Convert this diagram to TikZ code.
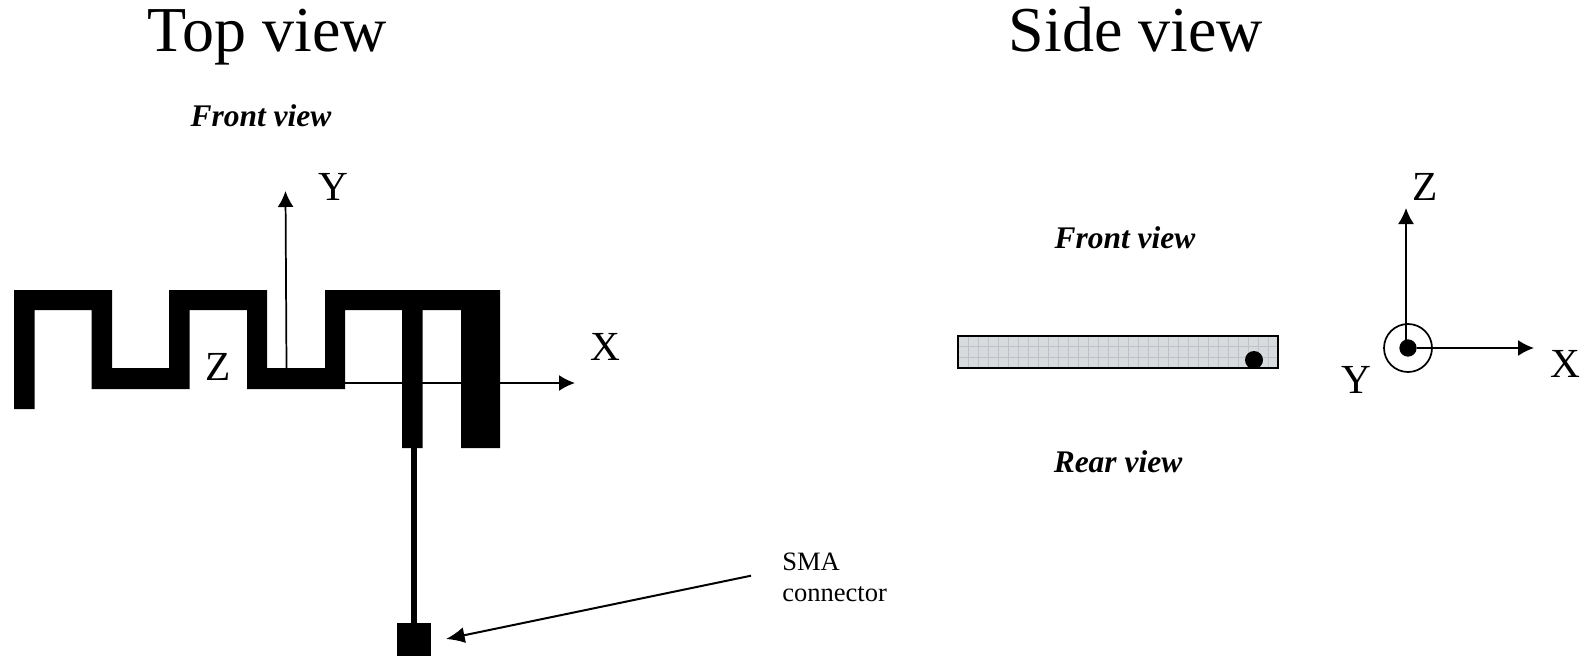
\documentclass[tikz,border=0pt]{standalone}
\usepackage{fontspec}
\setmainfont{Liberation Serif}
\definecolor{boardFill}{HTML}{D8DBDE}
\definecolor{boardGrid}{HTML}{BFC3C8}
\usetikzlibrary{arrows.meta}
\tikzset{
  title/.style={anchor=base, inner sep=0pt, font=\fontsize{48pt}{50pt}\selectfont},
  viewlabel/.style={anchor=base, inner sep=0pt, font=\fontsize{23.6pt}{26pt}\selectfont\bfseries\itshape},
  axislabel/.style={anchor=base, inner sep=0pt, font=\fontsize{31pt}{33pt}\selectfont},
  note/.style={anchor=base west, inner sep=0pt, font=\fontsize{19.9pt}{22pt}\selectfont},
  axis/.style={line width=1.3pt, -{Latex[length=12pt,width=12pt]}}
}

\begin{document}
\begin{tikzpicture}[x=0.75pt, y=-0.75pt]
  \useasboundingbox (0,0) rectangle (1587,656);

  % Top view
  \node[title] (topTitle) at (267.5,51.5) {Top view};
  \node[viewlabel] (topFront) at (261,127) {Front view};
  \coordinate (yBase) at (286.5,368);
  \coordinate (yTip) at (285.5,191);
  \coordinate (xBase) at (345,383);
  \coordinate (xTip) at (575,383);
  \draw[axis] (yBase) -- (yTip);
  \draw[axis] (xBase) -- (xTip);
  \node[axislabel] (topY) at (333.5,200.5) {Y};
  \node[axislabel] (topX) at (605,360.5) {X};
  \node[axislabel] (topZ) at (218,380) {Z};
  % meander
  \fill[black] (14,409) -- (14,290) -- (112,290) -- (112,368) -- (169,368) -- (169,290)
    -- (267,290) -- (267,368) -- (325,368) -- (325,290) -- (500,290) -- (500,448)
    -- (461,448) -- (461,310) -- (422.5,310) -- (422.5,448) -- (402,448) -- (402,310)
    -- (345,310) -- (345,389) -- (247,389) -- (247,310) -- (189.5,310) -- (189.5,389)
    -- (91.5,389) -- (91.5,310) -- (34.5,310) -- (34.5,409) -- cycle;
  \coordinate (feed) at (414,448);
  \node[fill=black, inner sep=0pt, minimum size=25.5pt] (sma) at (414,639.5) {};
  \draw[line width=4.2pt] (feed) -- (sma.center);
  \node[note] (smaOne) at (782,570) {SMA};
  \node[note] (smaTwo) at (782,601) {connector};
  \coordinate (smaStart) at (751,575.7);
  \coordinate (smaTip) at (446,639);
  \draw[line width=1.5pt, -{Latex[length=14pt,width=12pt]}] (smaStart) -- (smaTip);

  % Side view
  \node[title] (sideTitle) at (1136,51.5) {Side view};
  \node[viewlabel] (sideFront) at (1125,248.5) {Front view};
  \node[viewlabel] (sideRear) at (1118,472) {Rear view};
  \fill[boardFill] (958,336) rectangle (1278,368);
  \foreach \gx in {968,978,...,1278}
    \draw[boardGrid, line width=0.4pt] (\gx,336) -- (\gx,368);
  \foreach \gy in {346,357}
    \draw[boardGrid, line width=0.4pt] (958,\gy) -- (1278,\gy);
  \draw[line width=1.2pt] (958,336) rectangle (1278,368);
  \fill (1254,360) circle[radius=9];
  \node[circle, draw, line width=1.3pt, inner sep=0pt, minimum size=36pt] (yOut) at (1408,348) {};
  \node[circle, fill=black, inner sep=0pt, minimum size=13pt] (yDot) at (1408,348) {};
  \coordinate (zTip) at (1406,208);
  \coordinate (xTipSide) at (1534,348);
  \draw[axis] (yDot.center -| zTip) -- (zTip);
  \draw[axis] (yDot) -- (xTipSide);
  \node[axislabel] (sideZ) at (1425,200.5) {Z};
  \node[axislabel] (sideX) at (1565,377) {X};
  \node[axislabel] (sideY) at (1356,393) {Y};
\end{tikzpicture}
\end{document}
